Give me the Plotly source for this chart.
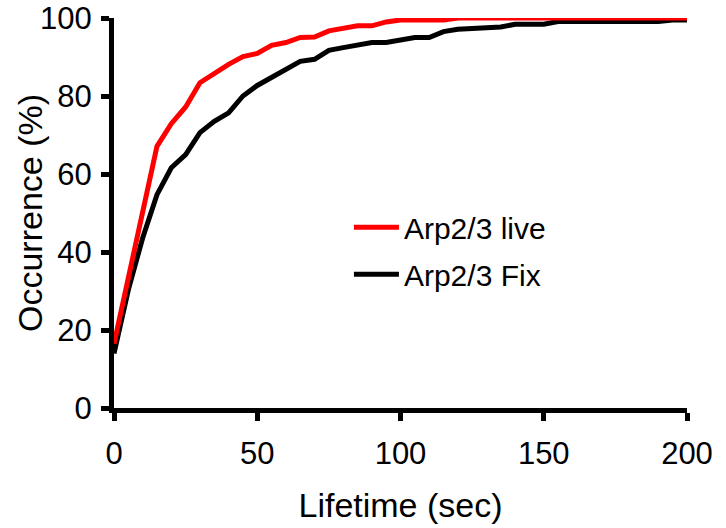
import plotly.graph_objects as go

# Lifetime bins (sec) and cumulative occurrence (%) for each condition
lifetime_sec = [0, 5, 10, 15, 20, 25, 30, 35, 40, 45, 50, 55, 60, 65, 70, 75, 80, 85, 90, 95,
                100, 105, 110, 115, 120, 125, 130, 135, 140, 145, 150, 155, 160, 165, 170, 175,
                180, 185, 190, 195, 200]

arp_live = [16.5, 33.5, 50.2, 67.1, 72.9, 77.2, 83.4, 85.8, 88.1, 90.1, 90.9, 93.0, 93.7, 95.0,
            95.1, 96.7, 97.4, 98.0, 98.0, 99.0, 99.5, 99.5, 99.5, 99.5, 100, 100, 100, 100, 100,
            100, 100, 100, 100, 100, 100, 100, 100, 100, 100, 100, 100]

arp_fix = [14.0, 30.3, 43.6, 54.7, 61.6, 65.0, 70.6, 73.5, 75.7, 80.0, 82.7, 84.7, 86.6, 88.9,
           89.4, 91.7, 92.4, 93.1, 93.7, 93.7, 94.4, 95.0, 95.0, 96.5, 97.1, 97.3, 97.7, 97.7,
           98.4, 98.4, 98.4, 99.1, 99.1, 99.1, 99.1, 99.1, 99.1, 99.1, 99.1, 99.5, 99.5]

series_names = ["Arp2/3 live", "Arp2/3 Fix"]
series_colors = ["#ff0000", "#000000"]

x_ticks = [0, 50, 100, 150, 200]
y_ticks = [0, 20, 40, 60, 80, 100]

FONT = "Liberation Sans, Arial, Helvetica, sans-serif"

fig = go.Figure()
# Fix curve first so the live curve is drawn on top; legend rank keeps live listed first
for rank, (name, vals, col) in reversed(list(enumerate(zip(series_names, [arp_live, arp_fix], series_colors)))):
    fig.add_trace(go.Scatter(
        x=lifetime_sec, y=vals, name=name, mode="lines",
        line=dict(color=col, width=5), cliponaxis=False,
        legendgroup=f"g{rank}", legendrank=rank + 1,
    ))

axis_common = dict(
    showline=True, linecolor="black", linewidth=5,
    ticks="outside", ticklen=8, tickwidth=5, tickcolor="black",
    showgrid=False, zeroline=False,
    tickfont=dict(family=FONT, size=31, color="black"),
    mirror=False,
)

fig.update_layout(
    width=726, height=528,
    margin=dict(l=114, r=39, t=18, b=120, autoexpand=False),
    paper_bgcolor="white", plot_bgcolor="white",
    font=dict(family=FONT, color="black"),
    xaxis=dict(range=[0, 200], tickvals=x_ticks, ticklabelstandoff=6,
               title=dict(text="Lifetime (sec)", font=dict(family=FONT, size=34), standoff=24),
               **axis_common),
    yaxis=dict(range=[0, 100], tickvals=y_ticks, ticklabelstandoff=3,
               **axis_common),
    annotations=[dict(
        text="Occurrence (%)", textangle=-90,
        xref="paper", yref="paper", x=0, y=0.5,
        xanchor="center", yanchor="middle", xshift=-84, showarrow=False,
        font=dict(family=FONT, size=34, color="black"),
    )],
    showlegend=True,
    legend=dict(
        x=0.41, y=0.53, xanchor="left", yanchor="top",
        font=dict(family=FONT, size=30, color="black"),
        bgcolor="rgba(0,0,0,0)", borderwidth=0,
        traceorder="grouped", tracegroupgap=5, itemwidth=45,
    ),
)

fig.write_html("out.html")
